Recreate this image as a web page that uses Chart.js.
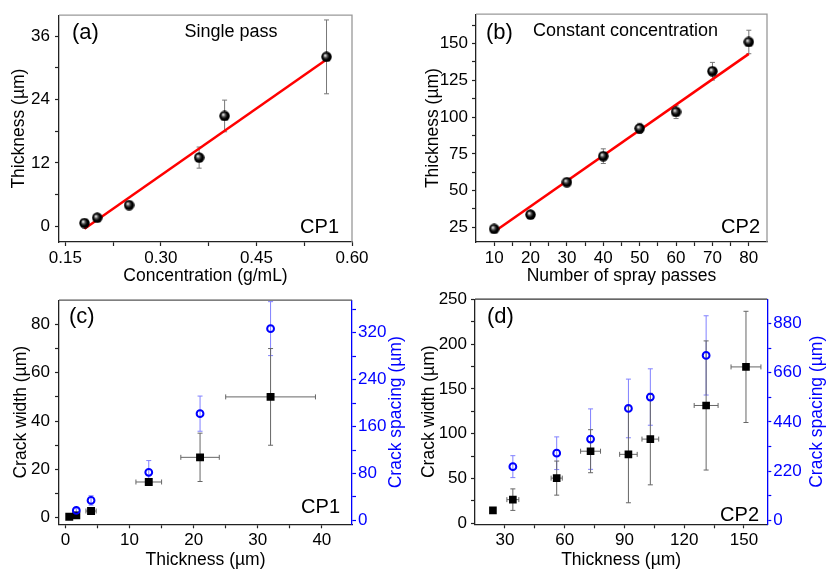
<!DOCTYPE html>
<html>
<head>
<meta charset="utf-8">
<script src="https://cdn.jsdelivr.net/npm/chart.js@4.4.1/dist/chart.umd.min.js"></script>
<style>
  body { margin: 0; background: #fff; }
  canvas { position: absolute; }
</style>
</head>
<body>
<canvas id="chartA" width="414" height="285" style="left:0;top:0"></canvas>
<canvas id="chartB" width="413" height="285" style="left:414px;top:0"></canvas>
<canvas id="chartC" width="414" height="284" style="left:0;top:285px"></canvas>
<canvas id="chartD" width="413" height="284" style="left:414px;top:285px"></canvas>
<script>
// (a) single pass
const concX = [0.18, 0.20, 0.25, 0.36, 0.40, 0.56];
const concThick = [0.6, 1.6, 4.0, 13.0, 20.9, 32.1];
const concErr = [0, 0, 0, 2.0, 3.0, 7.0];
const concFitX = [0.18, 0.56];
const concFitY = [-0.5, 31.6];
const aXTicks = [0.15, 0.30, 0.45, 0.60];
const aYTicks = [0, 12, 24, 36];

// (b) constant concentration
const passes = [10, 20, 30, 40, 50, 60, 70, 80];
const passThick = [23.9, 33.6, 55.7, 73.4, 92.3, 103.5, 131.2, 151.1];
const passErr = [1.5, 1.5, 2, 5, 3.5, 4.5, 6, 8];
const passFitX = [10, 80];
const passFitY = [22, 143];
const bXTicks = [10, 20, 30, 40, 50, 60, 70, 80];
const bYTicks = [25, 50, 75, 100, 125, 150];

// (c) CP1 cracks
const cp1Thick = [0.6, 1.7, 4.0, 13.0, 21.0, 32.0];
const cp1ThickErr = [0, 0, 0.8, 2, 3, 7];
const cp1Width = [0.4, 1.0, 2.8, 14.8, 25.0, 50.0];
const cp1WidthErr = [0, 0, 0.5, 1, 10, 20];
const cp1SpacingThick = [1.7, 4.0, 13.0, 21.0, 32.0];
const cp1Spacing = [17, 34, 82, 182, 327];
const cp1SpacingErr = [3, 8, 20, 30, 46];
const cXTicks = [0, 10, 20, 30, 40];
const cYTicks = [0, 20, 40, 60, 80];
const cY2Ticks = [0, 80, 160, 240, 320];

// (d) CP2 cracks
const cp2Thick = [24, 34, 56, 73, 92, 103, 131, 151];
const cp2ThickErr = [0, 3, 2.8, 5, 4.4, 4.2, 6, 7.5];
const cp2Width = [14.5, 26.5, 50.5, 80.5, 77, 94, 131.5, 174.5];
const cp2WidthErr = [0, 12, 19, 24, 54, 51, 72, 62];
const cp2SpacingThick = [34, 56, 73, 92, 103, 131];
const cp2Spacing = [240, 300, 363, 500, 551, 737];
const cp2SpacingErr = [49, 73, 135, 131, 126, 177];
const dXTicks = [30, 60, 90, 120, 150];
const dYTicks = [0, 50, 100, 150, 200, 250];
const dY2Ticks = [0, 220, 440, 660, 880];

const FONT = "'Liberation Sans', Arial, sans-serif";
Chart.defaults.font.family = FONT;
Chart.defaults.color = '#000';

const BLUE = '#0000ff';
const AXIS = '#222';

function pts(xs, ys) {
  return xs.map((x, i) => ({ x: x, y: ys[i] }));
}

function withMinors(majors, min, max) {
  const out = [];
  const step = majors[1] - majors[0];
  const all = [majors[0] - step].concat(majors, [majors[majors.length - 1] + step]);
  for (let i = 0; i < all.length; i++) {
    if (all[i] >= min && all[i] <= max) out.push(all[i]);
    if (i < all.length - 1) {
      const m = (all[i] + all[i + 1]) / 2;
      if (m > min && m < max) out.push(m);
    }
  }
  return out.sort((a, b) => a - b);
}

function sphere() {
  const c = document.createElement('canvas');
  c.width = 11; c.height = 11;
  const g = c.getContext('2d');
  const grad = g.createRadialGradient(4, 4, 0.3, 5.5, 5.5, 5.5);
  grad.addColorStop(0, '#f4f4f4');
  grad.addColorStop(0.3, '#555');
  grad.addColorStop(0.6, '#000');
  grad.addColorStop(1, '#000');
  g.fillStyle = grad;
  g.beginPath();
  g.arc(5.5, 5.5, 5.2, 0, Math.PI * 2);
  g.fill();
  return c;
}
const ball = sphere();

function axis(pos, min, max, majors, o) {
  const horiz = pos === 'bottom';
  return {
    type: 'linear', position: pos, min: min, max: max,
    afterBuildTicks: s => { s.ticks = withMinors(majors, min, max).map(v => ({ value: v })); },
    afterFit: s => { if (horiz) s.height = o.size; else s.width = o.size; },
    border: { color: o.color || AXIS, width: 1.3 },
    grid: { drawOnChartArea: false, tickLength: 4, tickColor: o.color || AXIS, tickWidth: 1.2 },
    ticks: {
      color: o.color || '#000', font: { size: 17 }, padding: o.pad, autoSkip: false, maxRotation: 0,
      callback: v => majors.includes(v) ? (o.fmt ? o.fmt(v) : String(v)) : ''
    },
    title: {
      display: pos !== 'right', text: o.title, color: o.color || '#000',
      font: { size: 17.5, lineHeight: 1.0 }, padding: { top: o.tpad, bottom: o.tpad }
    }
  };
}

// error bars drawn from the dataset values through the chart scales
const errorBars = {
  id: 'errorBars',
  beforeDatasetsDraw(chart) {
    const ctx = chart.ctx;
    chart.data.datasets.forEach(ds => {
      if (!ds.errY && !ds.errX) return;
      const xs = chart.scales[ds.xAxisID || 'x'];
      const ys = chart.scales[ds.yAxisID || 'y'];
      ctx.save();
      ctx.strokeStyle = ds.errColor || '#666';
      ctx.lineWidth = 1;
      ds.data.forEach((p, i) => {
        const px = xs.getPixelForValue(p.x);
        const py = ys.getPixelForValue(p.y);
        const ey = ds.errY ? ds.errY[i] : 0;
        const ex = ds.errX ? ds.errX[i] : 0;
        ctx.beginPath();
        if (ey) {
          const t = ys.getPixelForValue(p.y + ey), b = ys.getPixelForValue(p.y - ey);
          ctx.moveTo(px, t); ctx.lineTo(px, b);
          ctx.moveTo(px - 2.5, t); ctx.lineTo(px + 2.5, t);
          ctx.moveTo(px - 2.5, b); ctx.lineTo(px + 2.5, b);
        }
        if (ex) {
          const l = xs.getPixelForValue(p.x - ex), r = xs.getPixelForValue(p.x + ex);
          ctx.moveTo(l, py); ctx.lineTo(r, py);
          ctx.moveTo(l, py - 2.5); ctx.lineTo(l, py + 2.5);
          ctx.moveTo(r, py - 2.5); ctx.lineTo(r, py + 2.5);
        }
        ctx.stroke();
      });
      ctx.restore();
    });
  }
};

// top / right frame lines, right-axis title (reading upwards) and panel captions
const frame = {
  id: 'frame',
  afterDraw(chart, args, opts) {
    const ctx = chart.ctx;
    const a = chart.chartArea;
    ctx.save();
    ctx.strokeStyle = opts.color;
    ctx.lineWidth = 1.3;
    ctx.beginPath();
    ctx.moveTo(a.left, a.top);
    ctx.lineTo(a.right, a.top);
    if (opts.right) ctx.lineTo(a.right, a.bottom);
    ctx.stroke();
    const y2 = chart.scales.y2;
    if (y2) {
      ctx.save();
      ctx.translate(y2.right - opts.rightTitleOffset, (a.top + a.bottom) / 2);
      ctx.rotate(-Math.PI / 2);
      ctx.font = '17.5px ' + FONT;
      ctx.fillStyle = BLUE;
      ctx.textAlign = 'center';
      ctx.textBaseline = 'middle';
      ctx.fillText(y2.options.title.text, 0, 0);
      ctx.restore();
    }
    (opts.labels || []).forEach(l => {
      ctx.font = l.size + 'px ' + FONT;
      ctx.fillStyle = '#000';
      ctx.textAlign = l.align || 'left';
      ctx.textBaseline = 'middle';
      ctx.fillText(l.text, l.x, l.y);
    });
    ctx.restore();
  }
};

function baseOptions(pad, scales, frameOpts) {
  return {
    responsive: false, animation: false,
    layout: { padding: pad },
    scales: scales,
    plugins: { legend: { display: false }, tooltip: { enabled: false }, frame: frameOpts }
  };
}

// (a)
new Chart(document.getElementById('chartA'), {
  type: 'scatter',
  data: {
    datasets: [
      { data: pts(concX, concThick), errY: concErr, errColor: '#777', pointStyle: ball, pointRadius: 5 },
      { type: 'line', data: pts(concFitX, concFitY), borderColor: '#ff0000', borderWidth: 2.5, pointRadius: 0 }
    ]
  },
  options: baseOptions({ top: 14, right: 62, left: 0, bottom: 0 }, {
    x: axis('bottom', 0.14, 0.60, aXTicks, { size: 43, pad: 2, title: 'Concentration (g/mL)', tpad: 0, fmt: v => v.toFixed(2) }),
    y: axis('left', -3, 40, aYTicks, { size: 59, pad: 5, title: 'Thickness (\u00b5m)', tpad: 10 })
  }, {
    color: '#999', right: true,
    labels: [
      { text: '(a)', x: 72, y: 33, size: 22 },
      { text: 'Single pass', x: 231, y: 32, size: 18, align: 'center' },
      { text: 'CP1', x: 339, y: 227, size: 20, align: 'right' }
    ]
  }),
  plugins: [errorBars, frame]
});

// (b)
new Chart(document.getElementById('chartB'), {
  type: 'scatter',
  data: {
    datasets: [
      { data: pts(passes, passThick), errY: passErr, errColor: '#777', pointStyle: ball, pointRadius: 5 },
      { type: 'line', data: pts(passFitX, passFitY), borderColor: '#ff0000', borderWidth: 2.5, pointRadius: 0 }
    ]
  },
  options: baseOptions({ top: 14, right: 60, left: 0, bottom: 0 }, {
    x: axis('bottom', 5, 85, bXTicks, { size: 43, pad: 2, title: 'Number of spray passes', tpad: 0 }),
    y: axis('left', 15, 170, bYTicks, { size: 62, pad: 4, title: 'Thickness (\u00b5m)', tpad: 10 })
  }, {
    color: '#999', right: true,
    labels: [
      { text: '(b)', x: 72, y: 33, size: 22 },
      { text: 'Constant concentration', x: 119, y: 31, size: 18 },
      { text: 'CP2', x: 346, y: 227, size: 20, align: 'right' }
    ]
  }),
  plugins: [errorBars, frame]
});

// (c)
new Chart(document.getElementById('chartC'), {
  type: 'scatter',
  data: {
    datasets: [
      { data: pts(cp1SpacingThick, cp1Spacing), yAxisID: 'y2', errY: cp1SpacingErr, errColor: '#8080ff',
        pointStyle: 'circle', pointRadius: 3.4, borderWidth: 2, borderColor: BLUE, backgroundColor: 'rgba(0,0,0,0)' },
      { data: pts(cp1Thick, cp1Width), errY: cp1WidthErr, errX: cp1ThickErr, errColor: '#666',
        pointStyle: 'rect', pointRadius: 5.6, borderWidth: 0, backgroundColor: '#000' }
    ]
  },
  options: baseOptions({ top: 10, right: 0, left: 0, bottom: 0 }, {
    x: axis('bottom', -1, 44.7, cXTicks, { size: 44.7, pad: 2, title: 'Thickness (\u00b5m)', tpad: 0 }),
    y: axis('left', -2.7, 90, cYTicks, { size: 59, pad: 5, title: 'Crack width (\u00b5m)', tpad: 12 }),
    y2: axis('right', -6.7, 375.5, cY2Ticks, { size: 62, pad: 2, title: 'Crack spacing (\u00b5m)', color: BLUE })
  }, {
    color: '#555', right: false, rightTitleOffset: 17.5,
    labels: [
      { text: '(c)', x: 69, y: 32, size: 22 },
      { text: 'CP1', x: 340, y: 222, size: 20, align: 'right' }
    ]
  }),
  plugins: [errorBars, frame]
});

// (d)
new Chart(document.getElementById('chartD'), {
  type: 'scatter',
  data: {
    datasets: [
      { data: pts(cp2SpacingThick, cp2Spacing), yAxisID: 'y2', errY: cp2SpacingErr, errColor: '#8080ff',
        pointStyle: 'circle', pointRadius: 3.4, borderWidth: 2, borderColor: BLUE, backgroundColor: 'rgba(0,0,0,0)' },
      { data: pts(cp2Thick, cp2Width), errY: cp2WidthErr, errX: cp2ThickErr, errColor: '#666',
        pointStyle: 'rect', pointRadius: 5.4, borderWidth: 0, backgroundColor: '#000' }
    ]
  },
  options: baseOptions({ top: 9.3, right: 0, left: 0, bottom: 0 }, {
    x: axis('bottom', 15, 161.7, dXTicks, { size: 44.7, pad: 2, title: 'Thickness (\u00b5m)', tpad: 0 }),
    y: axis('left', -1, 250, dYTicks, { size: 61, pad: 4, title: 'Crack width (\u00b5m)', tpad: 6 }),
    y2: axis('right', -17.5, 988, dY2Ticks, { size: 59.7, pad: 2, title: 'Crack spacing (\u00b5m)', color: BLUE })
  }, {
    color: '#333', right: false, rightTitleOffset: 10,
    labels: [
      { text: '(d)', x: 73, y: 32, size: 22 },
      { text: 'CP2', x: 345, y: 230, size: 20, align: 'right' }
    ]
  }),
  plugins: [errorBars, frame]
});
</script>
</body>
</html>
